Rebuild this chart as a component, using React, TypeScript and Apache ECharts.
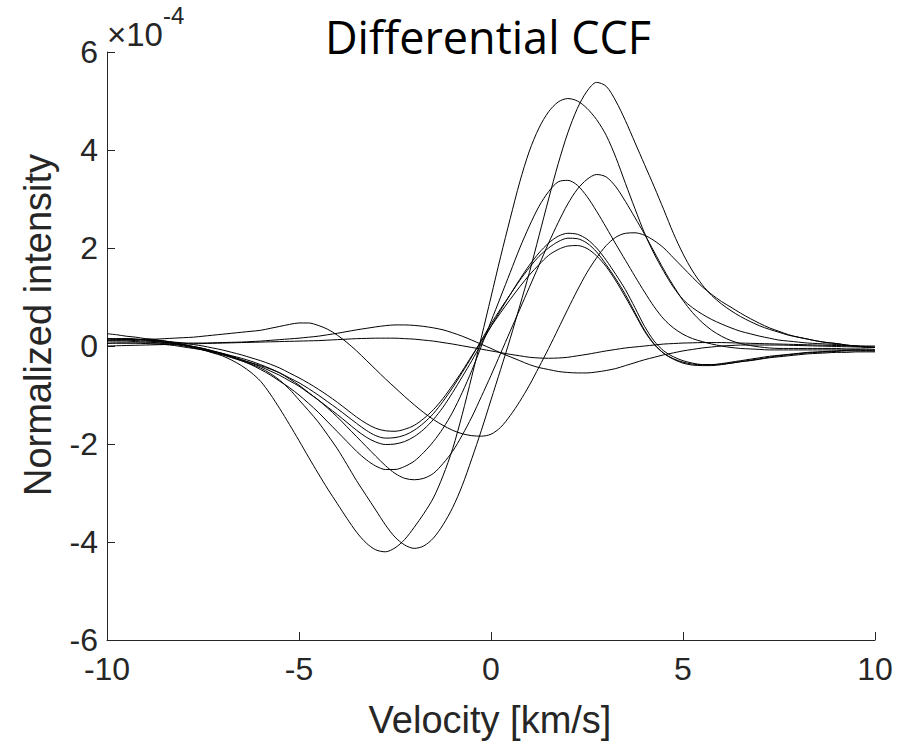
import React, { useEffect, useRef } from "react";
import * as echarts from "echarts";

// Velocity grid [km/s]
const velocity = [
  -10, -9.75, -9.5, -9.25, -9, -8.75, -8.5, -8.25, -8,
  -7.75, -7.5, -7.25, -7, -6.75, -6.5, -6.25, -6, -5.75,
  -5.5, -5.25, -5, -4.75, -4.5, -4.25, -4, -3.75, -3.5,
  -3.25, -3, -2.75, -2.5, -2.25, -2, -1.75, -1.5, -1.25,
  -1, -0.75, -0.5, -0.25, 0, 0.25, 0.5, 0.75, 1,
  1.25, 1.5, 1.75, 2, 2.25, 2.5, 2.75, 3, 3.25,
  3.5, 3.75, 4, 4.25, 4.5, 4.75, 5, 5.25, 5.5,
  5.75, 6, 6.25, 6.5, 6.75, 7, 7.25, 7.5, 7.75,
  8, 8.25, 8.5, 8.75, 9, 9.25, 9.5, 9.75, 10,
];

// Differential CCF curves, in units of 1e-4
const curveA = [
  0.10, 0.10, 0.10, 0.09, 0.08, 0.07, 0.05, 0.03, 0.00,
  -0.04, -0.08, -0.13, -0.18, -0.24, -0.30, -0.37, -0.45, -0.56,
  -0.70, -0.88, -1.10, -1.32, -1.55, -1.82, -2.10, -2.42, -2.75,
  -3.05, -3.35, -3.65, -3.90, -4.06, -4.13, -4.08, -3.92, -3.65,
  -3.30, -2.85, -2.30, -1.72, -1.10, -0.48, 0.15, 0.82, 1.50,
  2.25, 3.00, 3.72, 4.35, 4.85, 5.20, 5.38, 5.30, 5.00,
  4.60, 4.15, 3.70, 3.25, 2.78, 2.30, 1.88, 1.53, 1.25,
  1.03, 0.86, 0.72, 0.60, 0.50, 0.41, 0.34, 0.28, 0.22,
  0.18, 0.14, 0.10, 0.07, 0.05, 0.02, 0.00, -0.02, -0.03,
];
const curveB = [
  0.15, 0.15, 0.15, 0.14, 0.13, 0.12, 0.10, 0.06, 0.02,
  -0.03, -0.08, -0.14, -0.20, -0.29, -0.40, -0.54, -0.72, -0.98,
  -1.28, -1.60, -1.93, -2.27, -2.60, -2.92, -3.22, -3.52, -3.80,
  -4.02, -4.16, -4.20, -4.12, -3.95, -3.70, -3.42, -3.10, -2.65,
  -2.10, -1.40, -0.62, 0.18, 1.00, 1.82, 2.60, 3.35, 3.98,
  4.45, 4.78, 4.98, 5.05, 5.00, 4.85, 4.62, 4.30, 3.85,
  3.32, 2.80, 2.30, 1.88, 1.52, 1.20, 0.95, 0.78, 0.65,
  0.54, 0.45, 0.37, 0.30, 0.25, 0.20, 0.16, 0.12, 0.10,
  0.08, 0.06, 0.05, 0.04, 0.03, 0.01, 0.00, -0.01, -0.02,
];
const curveC = [
  0.12, 0.12, 0.12, 0.11, 0.10, 0.09, 0.07, 0.05, 0.02,
  -0.01, -0.05, -0.10, -0.15, -0.20, -0.25, -0.31, -0.38, -0.46,
  -0.55, -0.67, -0.80, -0.95, -1.10, -1.27, -1.45, -1.65, -1.85,
  -2.05, -2.25, -2.44, -2.60, -2.70, -2.73, -2.70, -2.60, -2.40,
  -2.15, -1.82, -1.45, -1.03, -0.60, -0.15, 0.30, 0.75, 1.20,
  1.65, 2.10, 2.52, 2.90, 3.20, 3.40, 3.50, 3.45, 3.25,
  2.95, 2.62, 2.28, 1.92, 1.56, 1.23, 0.93, 0.68, 0.48,
  0.32, 0.20, 0.11, 0.05, 0.01, -0.02, -0.04, -0.05, -0.05,
  -0.05, -0.05, -0.05, -0.05, -0.05, -0.06, -0.06, -0.06, -0.07,
];
const curveD = [
  0.15, 0.15, 0.15, 0.14, 0.12, 0.10, 0.08, 0.05, 0.02,
  -0.02, -0.06, -0.11, -0.16, -0.23, -0.30, -0.38, -0.48, -0.59,
  -0.72, -0.85, -1.00, -1.17, -1.35, -1.55, -1.75, -1.95, -2.15,
  -2.32, -2.45, -2.52, -2.52, -2.46, -2.35, -2.17, -1.95, -1.68,
  -1.35, -0.95, -0.50, 0.00, 0.50, 1.00, 1.50, 2.00, 2.45,
  2.85, 3.15, 3.35, 3.38, 3.28, 3.05, 2.75, 2.42, 2.08,
  1.75, 1.42, 1.10, 0.80, 0.55, 0.37, 0.24, 0.15, 0.09,
  0.04, 0.00, -0.03, -0.05, -0.06, -0.07, -0.08, -0.08, -0.08,
  -0.08, -0.08, -0.08, -0.08, -0.08, -0.08, -0.08, -0.09, -0.10,
];
const curveE = [
  0.25, 0.23, 0.20, 0.18, 0.15, 0.13, 0.10, 0.07, 0.03,
  -0.01, -0.05, -0.10, -0.15, -0.21, -0.28, -0.35, -0.42, -0.51,
  -0.60, -0.71, -0.82, -0.96, -1.10, -1.25, -1.40, -1.56, -1.72,
  -1.86, -1.96, -2.01, -2.00, -1.95, -1.85, -1.70, -1.50, -1.25,
  -0.95, -0.63, -0.30, 0.05, 0.40, 0.73, 1.05, 1.36, 1.65,
  1.90, 2.10, 2.24, 2.30, 2.28, 2.18, 2.00, 1.75, 1.46,
  1.15, 0.78, 0.40, 0.10, -0.10, -0.22, -0.30, -0.35, -0.38,
  -0.38, -0.37, -0.35, -0.32, -0.30, -0.27, -0.24, -0.22, -0.20,
  -0.18, -0.16, -0.15, -0.14, -0.13, -0.13, -0.12, -0.12, -0.12,
];
const curveF = [
  0.05, 0.06, 0.06, 0.06, 0.05, 0.04, 0.03, 0.01, -0.02,
  -0.05, -0.08, -0.12, -0.17, -0.22, -0.28, -0.34, -0.40, -0.47,
  -0.55, -0.65, -0.75, -0.87, -1.00, -1.14, -1.28, -1.43, -1.58,
  -1.72, -1.83, -1.88, -1.87, -1.82, -1.72, -1.57, -1.38, -1.13,
  -0.85, -0.54, -0.22, 0.12, 0.45, 0.76, 1.05, 1.34, 1.60,
  1.83, 2.00, 2.13, 2.20, 2.19, 2.10, 1.92, 1.66, 1.37,
  1.05, 0.68, 0.32, 0.04, -0.15, -0.27, -0.35, -0.39, -0.40,
  -0.40, -0.38, -0.35, -0.32, -0.29, -0.26, -0.23, -0.20, -0.18,
  -0.16, -0.14, -0.13, -0.12, -0.11, -0.10, -0.10, -0.10, -0.10,
];
const curveG = [
  0.12, 0.13, 0.13, 0.13, 0.12, 0.11, 0.10, 0.08, 0.06,
  0.03, 0.00, -0.04, -0.08, -0.13, -0.18, -0.24, -0.30, -0.37,
  -0.45, -0.55, -0.65, -0.76, -0.88, -1.01, -1.15, -1.30, -1.45,
  -1.58, -1.68, -1.73, -1.74, -1.70, -1.62, -1.48, -1.30, -1.07,
  -0.80, -0.51, -0.20, 0.10, 0.40, 0.68, 0.95, 1.21, 1.45,
  1.66, 1.85, 1.97, 2.04, 2.05, 1.99, 1.84, 1.62, 1.33,
  1.00, 0.65, 0.30, 0.03, -0.15, -0.26, -0.33, -0.37, -0.38,
  -0.38, -0.36, -0.33, -0.30, -0.27, -0.24, -0.21, -0.19, -0.17,
  -0.15, -0.13, -0.12, -0.11, -0.10, -0.09, -0.08, -0.08, -0.08,
];
const curveH = [
  0.12, 0.12, 0.13, 0.13, 0.14, 0.14, 0.15, 0.16, 0.17,
  0.18, 0.20, 0.22, 0.24, 0.26, 0.28, 0.30, 0.32, 0.36,
  0.40, 0.44, 0.47, 0.47, 0.42, 0.34, 0.22, 0.07, -0.10,
  -0.29, -0.48, -0.67, -0.85, -1.03, -1.20, -1.36, -1.50, -1.62,
  -1.72, -1.79, -1.83, -1.84, -1.80, -1.66, -1.42, -1.13, -0.80,
  -0.43, -0.05, 0.35, 0.75, 1.14, 1.50, 1.80, 2.05, 2.22,
  2.30, 2.31, 2.26, 2.15, 2.00, 1.80, 1.60, 1.40, 1.21,
  1.05, 0.91, 0.79, 0.67, 0.56, 0.46, 0.37, 0.30, 0.23,
  0.18, 0.14, 0.10, 0.07, 0.05, 0.02, 0.00, -0.02, -0.03,
];
const curveI = [
  0.06, 0.06, 0.06, 0.06, 0.06, 0.06, 0.06, 0.06, 0.06,
  0.06, 0.06, 0.065, 0.07, 0.075, 0.08, 0.09, 0.10, 0.115,
  0.13, 0.145, 0.16, 0.18, 0.20, 0.23, 0.26, 0.295, 0.33,
  0.36, 0.39, 0.415, 0.43, 0.43, 0.42, 0.40, 0.37, 0.33,
  0.27, 0.20, 0.12, 0.035, -0.05, -0.14, -0.22, -0.30, -0.38,
  -0.44, -0.48, -0.52, -0.54, -0.55, -0.55, -0.53, -0.50, -0.46,
  -0.40, -0.34, -0.28, -0.23, -0.18, -0.14, -0.10, -0.07, -0.04,
  -0.02, 0.00, 0.01, 0.02, 0.02, 0.02, 0.02, 0.02, 0.015,
  0.01, 0.005, 0.00, -0.005, -0.01, -0.015, -0.02, -0.025, -0.03,
];
const curveJ = [
  0.00, 0.005, 0.01, 0.015, 0.02, 0.025, 0.03, 0.035, 0.04,
  0.045, 0.05, 0.055, 0.06, 0.065, 0.07, 0.075, 0.08, 0.085,
  0.09, 0.095, 0.10, 0.105, 0.11, 0.12, 0.13, 0.14, 0.15,
  0.155, 0.16, 0.16, 0.16, 0.15, 0.14, 0.12, 0.10, 0.07,
  0.04, 0.005, -0.03, -0.065, -0.10, -0.135, -0.17, -0.20, -0.23,
  -0.245, -0.25, -0.245, -0.23, -0.20, -0.17, -0.135, -0.10, -0.07,
  -0.04, -0.02, 0.00, 0.02, 0.04, 0.05, 0.06, 0.065, 0.07,
  0.07, 0.07, 0.065, 0.06, 0.055, 0.05, 0.045, 0.04, 0.035,
  0.03, 0.025, 0.02, 0.015, 0.01, 0.005, 0.00, 0.00, 0.00,
];

const curves = [curveA, curveB, curveC, curveD, curveE, curveF, curveG, curveH, curveI, curveJ];

const xTicks = { min: -10, max: 10, interval: 5 };
const yTicks = { min: -6, max: 6, interval: 2 };

const titleText = "Differential CCF";
const xLabel = "Velocity [km/s]";
const yLabel = "Normalized intensity";
const scaleBase = "×10";
const scaleExp = "-4";

const AXIS_COLOR = "#262626";
const FONT = "'Liberation Sans', Arial, sans-serif";

export default function App() {
  const ref = useRef<HTMLDivElement>(null);

  useEffect(() => {
    if (!ref.current) return;
    const chart = echarts.init(ref.current, undefined, { renderer: "svg" });
    const axisCommon = {
      type: "value" as const,
      axisLine: { show: true, onZero: false, lineStyle: { color: AXIS_COLOR, width: 1 } },
      axisTick: { show: true, inside: true, length: 8, lineStyle: { color: AXIS_COLOR, width: 1 } },
      splitLine: { show: false },
    };
    chart.setOption({
      animation: false,
      backgroundColor: "#fff",
      grid: { left: 107, right: 37, top: 52, bottom: 105, containLabel: false },
      xAxis: {
        ...axisCommon,
        ...xTicks,
        axisLabel: { fontSize: 32, color: AXIS_COLOR, margin: 13, fontFamily: FONT },
      },
      yAxis: {
        ...axisCommon,
        ...yTicks,
        axisLabel: { fontSize: 32, color: AXIS_COLOR, margin: 9, fontFamily: FONT },
      },
      series: curves.map((c, k) => ({
        name: "CCF " + (k + 1),
        type: "line",
        data: velocity.map((v, i) => [v, c[i]]),
        smooth: 0.3,
        showSymbol: false,
        silent: true,
        lineStyle: { color: "#000", width: 1 },
      })),
      graphic: [
        {
          type: "text",
          x: 488,
          y: 36,
          style: {
            text: titleText,
            font: "45px 'Open Sans', 'Noto Sans', sans-serif",
            fill: "#000",
            textAlign: "center",
            textVerticalAlign: "middle",
          },
        },
        {
          type: "text",
          x: 490,
          y: 720,
          style: {
            text: xLabel,
            font: "38px " + FONT,
            fill: AXIS_COLOR,
            textAlign: "center",
            textVerticalAlign: "middle",
          },
        },
        {
          type: "text",
          x: 38,
          y: 325,
          rotation: Math.PI / 2,
          style: {
            text: yLabel,
            font: "38px " + FONT,
            fill: AXIS_COLOR,
            textAlign: "center",
            textVerticalAlign: "middle",
          },
        },
        {
          type: "text",
          x: 107,
          y: 34,
          style: {
            text: scaleBase,
            font: "33px " + FONT,
            fill: AXIS_COLOR,
            textAlign: "left",
            textVerticalAlign: "middle",
          },
        },
        {
          type: "text",
          x: 163,
          y: 15,
          style: {
            text: scaleExp,
            font: "24px " + FONT,
            fill: AXIS_COLOR,
            textAlign: "left",
            textVerticalAlign: "middle",
          },
        },
      ],
    });
    return () => chart.dispose();
  }, []);

  return (
    <div
      ref={ref}
      style={{ position: "fixed", left: 0, top: 0, width: 912, height: 745, background: "#fff" }}
    />
  );
}
